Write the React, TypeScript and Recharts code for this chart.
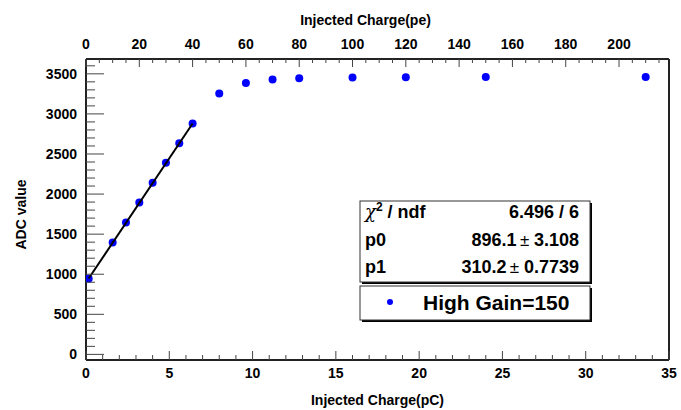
import { ComposedChart, Scatter, XAxis, YAxis, ReferenceLine, Label } from 'recharts'

// injected charge of each point, in photo-electrons (top axis)
const chargePe = [1, 10, 15, 20, 25, 30, 35, 40, 50, 60, 70, 80, 100, 120, 150, 210]
const adcValue = [945, 1395, 1645, 1895, 2140, 2390, 2635, 2880, 3255, 3385, 3430, 3445, 3455, 3458, 3462, 3462]

// linear fit segment, in pC (bottom axis)
const fitChargePc = [0.16, 6.4]
const fitAdc = [946, 2881]

const pcMajor = [0, 5, 10, 15, 20, 25, 30, 35]
const peMajor = [0, 20, 40, 60, 80, 100, 120, 140, 160, 180, 200]
const adcMajor = [0, 500, 1000, 1500, 2000, 2500, 3000, 3500]

const statRows = [
  { name: 'p0', value: '896.1', error: '3.108' },
  { name: 'p1', value: '310.2', error: '0.7739' },
]
const chi2 = '6.496 / 6'
const legendLabel = 'High Gain=150'

const points = chargePe.map((x, i) => ({ x, y: adcValue[i] }))
const fitLine = fitChargePc.map((x, i) => ({ x, y: fitAdc[i] }))

const pcTicks = Array.from({ length: 36 }, (_, i) => i)
const peTicks = Array.from({ length: 44 }, (_, i) => i * 5)
const adcTicks = Array.from({ length: 37 }, (_, i) => i * 100)

const font = "'Liberation Sans', Arial, sans-serif"
const tickColor = '#444'

const BottomTick = (props: any) => {
  const { x, y, payload } = props
  const major = pcMajor.includes(payload.value)
  return (
    <g>
      <line x1={x} x2={x} y1={y} y2={y - (major ? 9 : 5)} stroke={tickColor} />
      {major && (
        <text x={x} y={y + 18} textAnchor="middle" fontSize={14} fontWeight="bold" fontFamily={font} fill="#000">
          {payload.value}
        </text>
      )}
    </g>
  )
}

const TopTick = (props: any) => {
  const { x, y, payload } = props
  const major = peMajor.includes(payload.value)
  return (
    <g>
      <line x1={x} x2={x} y1={y} y2={y + (major ? 8 : 4)} stroke={tickColor} />
      {major && (
        <text x={x} y={y - 10} textAnchor="middle" fontSize={14} fontWeight="bold" fontFamily={font} fill="#000">
          {payload.value}
        </text>
      )}
    </g>
  )
}

const LeftTick = (props: any) => {
  const { x, y, payload } = props
  const major = adcMajor.includes(payload.value)
  return (
    <g>
      <line x1={x} x2={x + (major ? 18 : 9)} y1={y} y2={y} stroke={tickColor} />
      {major && (
        <text x={x - 9} y={y + 5} textAnchor="end" fontSize={14} fontWeight="bold" fontFamily={font} fill="#000">
          {payload.value}
        </text>
      )}
    </g>
  )
}

const Dot = (props: any) => <circle cx={props.cx} cy={props.cy} r={4} fill="#0000ff" />
const NoDot = () => <g />

export default function App() {
  return (
    <div style={{ position: 'absolute', left: 0, top: 0, width: 681, height: 410, background: '#fff' }}>
      <ComposedChart width={681} height={410} margin={{ top: 29, right: 12, bottom: 20, left: 26 }}>
        <XAxis
          xAxisId="top"
          orientation="top"
          type="number"
          dataKey="x"
          domain={[0, 218.75]}
          ticks={peTicks}
          interval={0}
          height={30}
          tickSize={0}
          tickMargin={0}
          tick={<TopTick />}
          axisLine={{ stroke: '#222', strokeWidth: 2 }}
          allowDataOverflow
        >
          <Label
            content={({ viewBox }: any) => (
              <text x={viewBox.x + viewBox.width / 2 - 12} y={viewBox.y - 4} textAnchor="middle" fontSize={14} fontWeight="bold" fontFamily={font} fill="#000">
                Injected Charge(pe)
              </text>
            )}
          />
        </XAxis>
        <XAxis
          xAxisId="bottom"
          orientation="bottom"
          type="number"
          dataKey="x"
          domain={[0, 35]}
          ticks={pcTicks}
          interval={0}
          height={30}
          tickSize={0}
          tickMargin={0}
          tick={<BottomTick />}
          axisLine={{ stroke: '#222', strokeWidth: 2 }}
          allowDataOverflow
        >
          <Label
            content={({ viewBox }: any) => (
              <text x={viewBox.x + viewBox.width / 2} y={viewBox.y + 45} textAnchor="middle" fontSize={14} fontWeight="bold" fontFamily={font} fill="#000">
                Injected Charge(pC)
              </text>
            )}
          />
        </XAxis>
        <YAxis
          type="number"
          dataKey="y"
          domain={[-70, 3685]}
          ticks={adcTicks}
          interval={0}
          width={60}
          tickSize={0}
          tickMargin={0}
          tick={<LeftTick />}
          axisLine={{ stroke: '#222', strokeWidth: 2 }}
          allowDataOverflow
        >
          <Label
            content={({ viewBox }: any) => {
              const cx = 26
              const cy = viewBox.y + viewBox.height / 2 + 5
              return (
                <text x={cx} y={cy} transform={`rotate(-90, ${cx}, ${cy})`} textAnchor="middle" fontSize={14} fontWeight="bold" fontFamily={font} fill="#000">
                  ADC value
                </text>
              )
            }}
          />
        </YAxis>
        <ReferenceLine xAxisId="bottom" x={35} stroke="#222" strokeWidth={2} />
        <Scatter xAxisId="top" data={points} shape={<Dot />} isAnimationActive={false} />
        <Scatter
          xAxisId="bottom"
          data={fitLine}
          shape={<NoDot />}
          line={{ stroke: '#000', strokeWidth: 2 }}
          isAnimationActive={false}
        />
      </ComposedChart>
      <svg width={681} height={410} style={{ position: 'absolute', left: 0, top: 0, pointerEvents: 'none' }}>
        <g fontFamily={font} fontWeight="bold" fill="#000">
          <rect x={362} y={203} width={230} height={81} fill="#000" />
          <rect x={360} y={201} width={230} height={81} fill="#fff" stroke="#333" />
          <text x={365} y={218} fontSize={18}>
            <tspan fontFamily="'DejaVu Serif', serif" fontWeight="normal" fontStyle="italic">{'\u03c7'}</tspan>
            <tspan dy={-7} fontSize={12}>2</tspan>
            <tspan dy={7}> / ndf</tspan>
          </text>
          <text x={579} y={218} fontSize={18} textAnchor="end">{chi2}</text>
          {statRows.map((r, i) => (
            <g key={r.name}>
              <text x={365} y={246 + i * 27} fontSize={18}>{r.name}</text>
              <text x={579} y={246 + i * 27} fontSize={18} textAnchor="end">
                {r.value}
                <tspan fontWeight="normal" fontSize={17}>{'\u2009\u00b1 '}</tspan>
                {r.error}
              </text>
            </g>
          ))}
          <rect x={362} y={288} width={230} height={34} fill="#000" />
          <rect x={360} y={286} width={230} height={34} fill="#fff" stroke="#333" />
          <circle cx={390} cy={302} r={3} fill="#0000ff" />
          <text x={423} y={310} fontSize={21}>{legendLabel}</text>
        </g>
      </svg>
    </div>
  )
}
